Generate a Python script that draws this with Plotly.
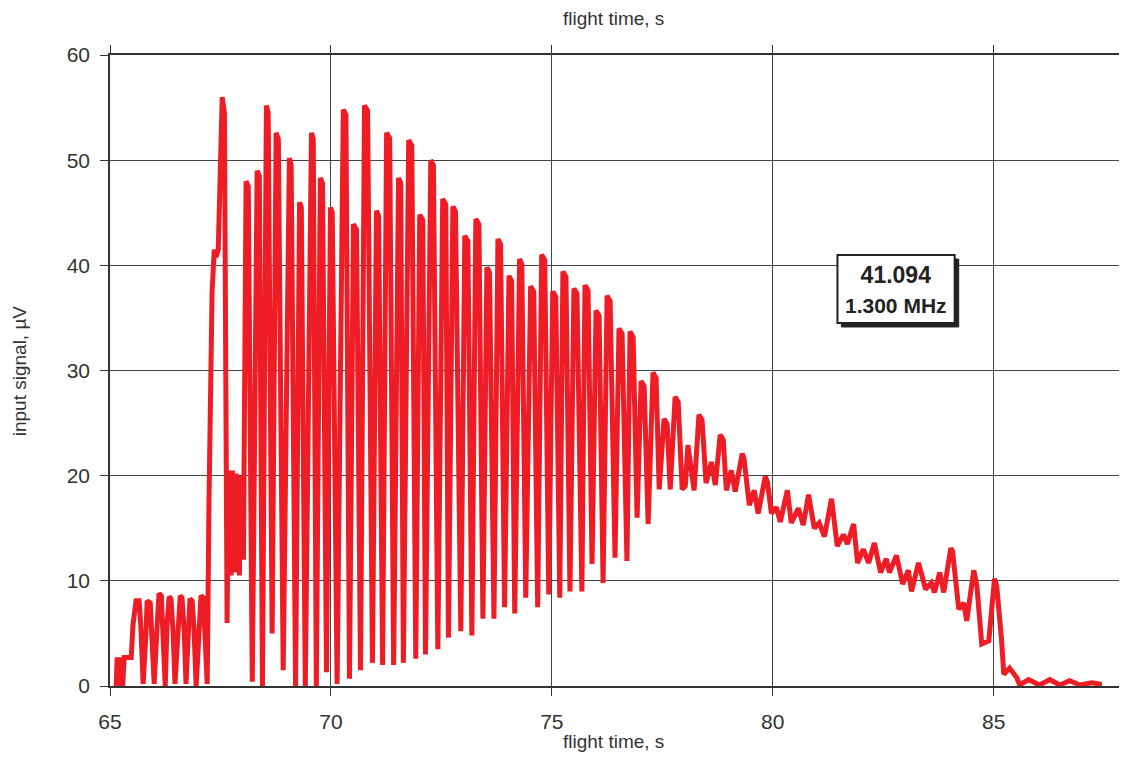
import plotly.graph_objects as go

# flight time, s
time_s = [65.14, 65.16, 65.23, 65.25, 65.29, 65.32, 65.48, 65.52, 65.59, 65.66,
          65.70, 65.75, 65.82, 65.84, 65.91, 65.95, 66.00, 66.07, 66.11, 66.16,
          66.20, 66.25, 66.29, 66.34, 66.38, 66.43, 66.47, 66.54, 66.59, 66.63,
          66.68, 66.72, 66.77, 66.81, 66.86, 66.90, 66.95, 67.02, 67.06, 67.11,
          67.15, 67.20, 67.24, 67.27, 67.31, 67.36, 67.40, 67.45, 67.49, 67.54,
          67.59, 67.62, 67.65, 67.68, 67.70, 67.72, 67.74, 67.77, 67.79, 67.81,
          67.83, 67.86, 67.88, 67.90, 67.93, 67.95, 67.97, 68.00,
          68.02, 68.08, 68.13, 68.22, 68.33, 68.38, 68.45, 68.54, 68.58, 68.67,
          68.76, 68.81, 68.92, 69.06, 69.10, 69.20, 69.29, 69.33, 69.42, 69.56,
          69.60, 69.67, 69.76, 69.81, 69.90, 69.99, 70.03, 70.14, 70.28, 70.34,
          70.42, 70.51, 70.58, 70.67, 70.76, 70.83, 70.94, 71.03, 71.08, 71.17,
          71.26, 71.33, 71.42, 71.53, 71.58, 71.64, 71.76, 71.83, 71.92, 72.01,
          72.08, 72.14, 72.26, 72.32, 72.42, 72.53, 72.60, 72.66, 72.76, 72.82,
          72.94, 73.03, 73.10, 73.19, 73.28, 73.35, 73.44, 73.53, 73.59, 73.69,
          73.78, 73.84, 73.93, 74.03, 74.09, 74.16, 74.27, 74.32, 74.41, 74.52,
          74.59, 74.68, 74.77, 74.84, 74.93, 75.02, 75.09, 75.18, 75.25, 75.32,
          75.41, 75.50, 75.57, 75.68, 75.75, 75.82, 75.91, 76.00, 76.07, 76.16,
          76.25, 76.32, 76.43, 76.52, 76.59, 76.70, 76.77, 76.84, 76.93, 77.02,
          77.09, 77.18, 77.29, 77.36, 77.43, 77.54, 77.61, 77.68, 77.79, 77.86,
          77.95, 78.02, 78.08, 78.22, 78.33, 78.40, 78.49, 78.61, 78.70, 78.81,
          78.88, 78.95, 79.06, 79.15, 79.31, 79.35, 79.47, 79.58, 79.67, 79.83,
          79.88, 79.97, 80.08, 80.17, 80.33, 80.42, 80.58, 80.69, 80.81, 80.94,
          81.05, 81.17, 81.33, 81.46, 81.60, 81.69, 81.83, 81.92, 82.05, 82.17,
          82.30, 82.44, 82.57, 82.64, 82.80, 82.94, 83.07, 83.14, 83.30, 83.46,
          83.59, 83.66, 83.78, 83.87, 84.03, 84.07, 84.21, 84.32, 84.39, 84.55,
          84.62, 84.73, 84.89, 85.02, 85.07, 85.18, 85.23, 85.36, 85.52, 85.59,
          85.79, 86.04, 86.27, 86.50, 86.72, 86.95, 87.22, 87.45]

# input signal, µV
signal_uv = [0.0, 2.5, 2.5, 0.2, 0.2, 2.7, 2.7, 5.8, 8.1, 8.1,
             5.5, 0.2, 5.5, 8.1, 7.9, 5.2, 0.2, 6.0, 8.8, 8.6,
             5.5, 0.0, 5.8, 8.5, 8.3, 5.0, 0.2, 6.0, 8.6, 8.4,
             5.2, 0.2, 5.8, 8.3, 8.1, 5.5, 0.0, 6.2, 8.6, 8.4,
             5.5, 0.2, 17.4, 29.0, 37.4, 41.5, 40.8, 41.5, 48.0, 56.0,
             54.5, 30.0, 6.0, 19.8, 12.0, 20.5, 10.5, 20.5, 11.0, 20.0,
             10.8, 20.2, 11.0, 19.8, 10.5, 20.0, 12.0, 19.0,
             12.0, 48.0, 47.5, 0.4, 49.0, 48.5, 0.0, 55.2, 54.5, 5.0,
             52.6, 52.0, 1.5, 50.2, 49.5, 0.0, 46.0, 45.5, 0.0, 52.6,
             52.0, 0.0, 48.3, 47.8, 1.3, 45.5, 45.0, 0.2, 54.8, 54.3,
             0.7, 43.9, 43.4, 1.5, 55.2, 54.7, 2.2, 45.2, 44.7, 2.0,
             52.6, 52.1, 2.0, 48.3, 47.8, 2.2, 51.9, 51.4, 2.6, 44.8,
             44.3, 3.0, 50.0, 49.5, 3.5, 46.3, 45.8, 4.6, 45.6, 45.1,
             5.2, 42.8, 42.3, 4.8, 44.4, 43.9, 6.4, 39.8, 39.3, 6.4,
             42.5, 42.0, 7.5, 39.0, 38.5, 6.9, 40.6, 40.1, 8.4, 38.0,
             37.5, 7.5, 41.0, 40.5, 8.7, 37.5, 37.0, 8.4, 39.4, 38.9,
             9.0, 37.8, 37.3, 9.0, 38.1, 37.6, 11.6, 35.7, 35.2, 9.8,
             37.1, 36.6, 12.2, 34.0, 33.5, 11.9, 33.7, 33.2, 16.0, 29.0,
             28.5, 15.4, 29.8, 29.3, 18.7, 25.4, 24.9, 18.7, 27.5, 27.0,
             18.7, 19.0, 22.9, 18.6, 25.8, 25.3, 19.3, 21.3, 19.1, 23.9,
             23.4, 18.6, 20.5, 18.5, 22.1, 21.6, 17.2, 18.6, 16.4, 19.9,
             19.4, 16.4, 17.0, 15.6, 18.6, 15.5, 16.9, 15.3, 18.2, 15.0,
             15.5, 14.2, 17.8, 13.3, 14.4, 13.5, 15.4, 11.7, 13.0, 11.7,
             13.6, 10.8, 12.1, 10.8, 12.4, 9.7, 11.0, 9.0, 11.7, 9.2,
             9.8, 8.9, 10.8, 8.9, 13.1, 12.8, 7.3, 7.9, 6.2, 11.0,
             9.5, 4.0, 4.3, 10.2, 9.5, 4.3, 1.1, 1.7, 0.8, 0.1,
             0.6, 0.1, 0.6, 0.1, 0.5, 0.1, 0.3, 0.15]

x_ticks = [65, 70, 75, 80, 85]
y_ticks = [0, 10, 20, 30, 40, 50, 60]
readout_value = "41.094"
readout_freq = "1.300 MHz"

FONT = "Liberation Sans, Arial, sans-serif"
TXT = "#333333"
GRID = "#444444"

fig = go.Figure()
fig.add_trace(go.Scatter(
    x=time_s, y=signal_uv, mode="lines",
    line=dict(color="#ee1c25", width=5),
    showlegend=False, hoverinfo="skip",
))

fig.update_layout(
    width=1116, height=744,
    margin=dict(l=102, r=0, t=47, b=66, autoexpand=False),
    paper_bgcolor="white", plot_bgcolor="white",
    font=dict(family=FONT, color=TXT, size=16),
    xaxis=dict(range=[65, 87.95], tickvals=x_ticks, ticktext=[str(v) for v in x_ticks],
               showgrid=True, gridcolor=GRID, gridwidth=1, automargin=False,
               showline=True, linecolor="#333333", linewidth=1.5, mirror="ticks",
               ticks="outside", ticklen=8, tickcolor="#333333", ticklabelstandoff=8,
               tickfont=dict(size=21, color=TXT), zeroline=False),
    yaxis=dict(range=[0, 60], tickvals=y_ticks, automargin=False,
               showgrid=True, gridcolor=GRID, gridwidth=1,
               showline=True, linecolor="#333333", linewidth=1.5, mirror=True,
               ticks="outside", ticklen=8, tickcolor="#333333", ticklabelstandoff=6,
               tickfont=dict(size=21, color=TXT), zeroline=False),
)

# axis titles
fig.add_annotation(xref="paper", yref="paper", x=0.497, y=1.0586, yanchor="middle",
                   text="flight time, s", showarrow=False, font=dict(size=19, color=TXT))
fig.add_annotation(xref="paper", yref="paper", x=0.497, y=-0.0887, yanchor="middle",
                   text="flight time, s", showarrow=False, font=dict(size=19, color=TXT))
fig.add_annotation(xref="paper", yref="paper", x=-0.089, y=0.5, xanchor="center",
                   yanchor="middle", textangle=-90,
                   text="input signal, µV", showarrow=False, font=dict(size=19, color=TXT))

# readout box: shadow + framed box + text
fig.add_shape(type="rect", xref="paper", yref="paper",
              x0=0.7213, x1=0.8370, y0=0.5690, y1=0.6767,
              fillcolor="#222222", line=dict(color="#222222", width=1))
fig.add_shape(type="rect", xref="paper", yref="paper",
              x0=0.7174, x1=0.8330, y0=0.5753, y1=0.6830,
              fillcolor="white", line=dict(color="#222222", width=2))
label = (f"<b>{readout_value}</b><br>"
         f"<b><span style='font-size:21px'>{readout_freq}</span></b>")
fig.add_annotation(xref="paper", yref="paper", x=0.7752, y=0.629,
                   xanchor="center", yanchor="middle",
                   text=label, showarrow=False,
                   font=dict(family=FONT, size=23, color="#222222"))

fig.write_html("out.html")
